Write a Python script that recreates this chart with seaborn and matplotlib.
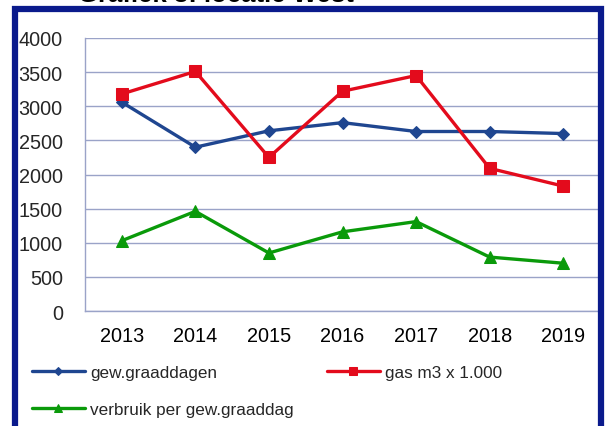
import matplotlib
matplotlib.use("Agg")
import matplotlib.pyplot as plt
import seaborn as sns
import pandas as pd
from matplotlib.patches import Rectangle

years = ["2013", "2014", "2015", "2016", "2017", "2018", "2019"]
graaddagen = [3060, 2400, 2640, 2760, 2630, 2630, 2600]
gas = [3180, 3510, 2250, 3220, 3450, 2090, 1830]
verbruik = [1030, 1460, 850, 1160, 1310, 790, 700]
labels = ["gew.graaddagen", "gas m3 x 1.000", "verbruik per gew.graaddag"]
title = "Grafiek 3: locatie West"

sns.set_theme(style="white")
plt.rcParams['font.family'] = ['Liberation Sans', 'DejaVu Sans']

fig = plt.figure(figsize=(6.09, 4.27), dpi=100)
ax = fig.add_axes([85/609, 1-312/427, (600-85)/609, (312-39)/427])

grid_c = "#9AA3C8"
series = [
    (graaddagen, labels[0], "#1F4690", "D", 6.5),
    (gas, labels[1], "#E30B1C", "s", 9),
    (verbruik, labels[2], "#0A9A0A", "^", 9),
]
xs = list(range(len(years)))
for vals, lab, col, mk, ms in series:
    df = pd.DataFrame({"x": xs, "y": vals})
    sns.lineplot(data=df, x="x", y="y", ax=ax, color=col, marker=mk,
                 markersize=ms, markeredgecolor=col, linewidth=2.4, label=lab)

ax.set_xlim(-0.5, 6.5)
ax.set_ylim(0, 4000)
ax.set_yticks(range(0, 4001, 500))
ax.set_yticklabels([str(v) for v in range(0, 4001, 500)])
ax.set_xticks(xs)
ax.set_xticklabels(years)
ax.set_xticks([i - 0.5 for i in range(1, 7)] + [-0.5], minor=True)
ax.tick_params(axis="x", which="major", length=0, pad=11, labelsize=14.3, colors="black")
ax.tick_params(axis="x", which="minor", length=4, width=1, color=grid_c, direction="out")
ax.tick_params(axis="y", length=5, width=1, color=grid_c, direction="out", pad=11, labelsize=14.3)
ax.set_xlabel("")
ax.set_ylabel("")
ax.yaxis.grid(True, color=grid_c, linewidth=1)
ax.set_axisbelow(True)
for s in ["top", "right"]:
    ax.spines[s].set_visible(False)
for s in ["left", "bottom"]:
    ax.spines[s].set_color(grid_c)
    ax.spines[s].set_linewidth(1)

h, l = ax.get_legend_handles_labels()
order = [0, 2, 1]
leg = ax.legend([h[i] for i in order], [l[i] for i in order],
                loc="upper left", bbox_to_anchor=(25/609, 1-359/427),
                bbox_transform=fig.transFigure, ncol=2, frameon=False,
                fontsize=12.3, handlelength=3.1, handletextpad=0.3,
                columnspacing=1.95, labelspacing=1.3, borderaxespad=0,
                markerscale=0.6)

fig.patches.append(Rectangle((15/609, -0.1), (601-15)/609, 1.1 - 10/427,
                             transform=fig.transFigure, fill=False,
                             edgecolor="#0A1A8C", linewidth=4.5, zorder=10))
fig.text(78/609, 1-2.5/427, title, fontsize=18.5, fontweight="bold",
         ha="left", va="baseline", color="black")

fig.savefig("out.png", dpi=100)
